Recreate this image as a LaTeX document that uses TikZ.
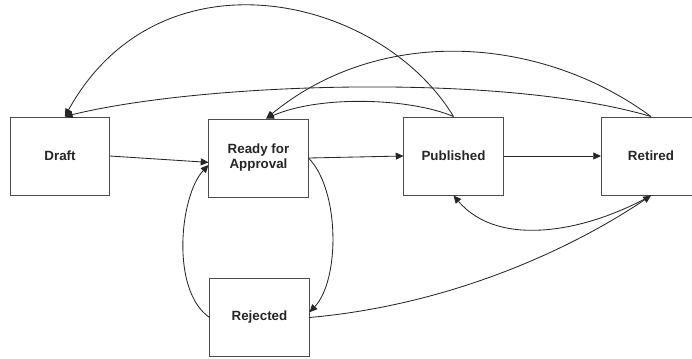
\documentclass[tikz,border=0pt]{standalone}
\usepackage{fontspec}
\setmainfont{Liberation Sans}
\usetikzlibrary{arrows.meta}

\begin{document}
\begin{tikzpicture}[
    x=0.025cm, y=-0.025cm,
    state/.style={
        draw=black!70,
        line width=0.7pt,
        fill=white,
        minimum width=2.475cm,
        minimum height=1.95cm,
        align=center,
        text=black!85,
        font=\fontsize{9.5}{10.7}\selectfont\bfseries
    },
    arrow/.style={
        -{Triangle[length=5.5pt,width=5pt]},
        line width=0.6pt,
        black!85
    }
]
    \useasboundingbox (0,0) rectangle (692,358);

    % States
    \node[state] (draft) at (60,156) {Draft};
    \node[state] (ready) at (258.5,158) {Ready for\\Approval};
    \node[state] (pub) at (453.5,156) {Published};
    \node[state] (retired) at (651,156) {Retired};
    \node[state] (rejected) at (259.5,317.5) {Rejected};

    % Forward transitions
    \draw[arrow] (draft.east) -- (ready.185);
    \draw[arrow] (ready.east) -- (pub.west);
    \draw[arrow] (pub.east) -- (retired.west);

    % Going back over the top
    \draw[arrow] (pub.north) .. controls (380,-5) and (160,-55) .. (draft.83);
    \draw[arrow] (retired.north) .. controls (500,72) and (200,83) .. (draft.83);
    \draw[arrow] (pub.north) .. controls (410,98) and (320,95) .. (ready.79);
    \draw[arrow] (retired.north) .. controls (540,35) and (380,25) .. (ready.79);

    % Rejection loop
    \draw[arrow] (ready.east) .. controls (340,190) and (340,280) .. (rejected.6);
    \draw[arrow] (rejected.west) .. controls (170,290) and (180,195) .. (ready.188);

    % Below the row
    \draw[arrow] (rejected.east) .. controls (450,305) and (570,250) .. (retired.south);
    \draw[arrow] (retired.south) .. controls (590,230) and (500,250) .. (pub.south);
\end{tikzpicture}
\end{document}
